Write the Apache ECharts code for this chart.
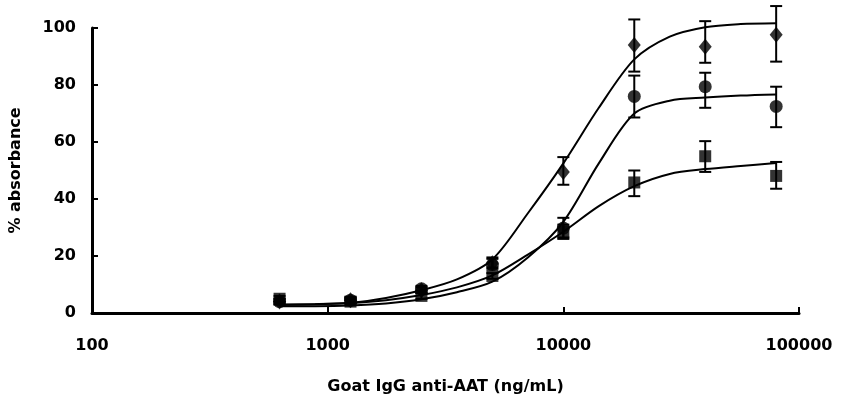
<!DOCTYPE html>
<html>
<head>
<meta charset="utf-8">
<script src="https://cdn.jsdelivr.net/npm/echarts@6/dist/echarts.min.js"></script>
<style>
  html, body { margin: 0; padding: 0; background: #fff; }
  #myChart { width: 841px; height: 400px; }
</style>
</head>
<body>
<div id="myChart"></div>
<script>
// measured concentrations (ng/mL)
var doses = [625, 1250, 2500, 5000, 10000, 20000, 40000, 80000];

// mean % absorbance per series
var diamondVals = [4, 4.5, 8, 17.5, 49.5, 94, 93.4, 97.6];
var circleVals  = [4, 4.5, 8.5, 17, 29.8, 76, 79.4, 72.5];
var squareVals  = [5, 4, 6, 13, 28.5, 45.8, 55, 48.1];

// error bar ends
var diamondLo = [3, 3.5, 7, 16, 45, 84.7, 87.8, 88.2];
var diamondHi = [5, 5.5, 9, 19.5, 54.7, 103, 102.4, 107.7];
var circleLo  = [3, 3.5, 7.5, 15.5, 26.5, 68.6, 72, 65.2];
var circleHi  = [5, 5.5, 9.5, 19, 33.4, 83.3, 84.3, 79.4];
var squareLo  = [4, 3, 5, 12, 26, 41, 49.5, 43.6];
var squareHi  = [6, 5, 7, 14, 31, 50, 60.3, 53];

// fitted curves
var curveX = [625, 884, 1250, 1768, 2500, 3536, 5000, 7071, 10000, 14142, 20000, 28284, 40000, 56569, 80000];
var diamondCurve = [3, 3.1, 3.6, 5.3, 8, 11.8, 18.8, 35, 52.5, 72, 89, 97, 100.3, 101.4, 101.7];
var circleCurve  = [2.4, 2.4, 2.6, 3.3, 4.8, 7.3, 11, 19.5, 32, 52.5, 70, 74.5, 75.6, 76.3, 76.7];
var squareCurve  = [2.8, 3.1, 3.5, 4.5, 6.3, 9, 13.2, 20.5, 28.5, 37.5, 44.5, 48.8, 50.5, 51.6, 52.6];

var FONT = 'DejaVu Sans';

function pairs(xs, ys) {
    var out = [];
    for (var i = 0; i < xs.length; i++) out.push([xs[i], ys[i]]);
    return out;
}

function errData(lo, hi) {
    var out = [];
    for (var i = 0; i < doses.length; i++) out.push([doses[i], lo[i], hi[i]]);
    return out;
}

function renderErr(params, api) {
    var top = api.coord([api.value(0), api.value(2)]);
    var bot = api.coord([api.value(0), api.value(1)]);
    var w = 6;
    var st = { stroke: '#000', lineWidth: 2 };
    return {
        type: 'group',
        children: [
            { type: 'line', shape: { x1: top[0], y1: top[1], x2: bot[0], y2: bot[1] }, style: st },
            { type: 'line', shape: { x1: top[0] - w, y1: top[1], x2: top[0] + w, y2: top[1] }, style: st },
            { type: 'line', shape: { x1: bot[0] - w, y1: bot[1], x2: bot[0] + w, y2: bot[1] }, style: st }
        ]
    };
}

function curve(data) {
    return {
        type: 'line', data: data, smooth: 0.3, showSymbol: false, symbol: 'none',
        clip: false, lineStyle: { color: '#000', width: 2 }, z: 2, silent: true
    };
}

function errSeries(lo, hi) {
    return { type: 'custom', data: errData(lo, hi), renderItem: renderErr, clip: false, z: 3, silent: true };
}

function markers(vals, sym, size) {
    return {
        type: 'scatter', data: pairs(doses, vals), symbol: sym, symbolSize: size, clip: false,
        itemStyle: { color: '#000' }, z: 4, silent: true
    };
}

var myChart = echarts.init(document.getElementById('myChart'));

var option = {
    animation: false,
    backgroundColor: '#fff',
    grid: { left: 92, right: 42, top: 28, bottom: 85 },
    xAxis: {
        type: 'log', logBase: 10, min: 100, max: 100000,
        name: 'Goat IgG anti-AAT (ng/mL)', nameLocation: 'middle', nameGap: 66,
        nameTextStyle: { fontFamily: FONT, fontWeight: 'bold', fontSize: 16, color: '#000' },
        axisLine: { lineStyle: { color: '#000', width: 3 } },
        axisTick: { inside: true, length: 6, lineStyle: { color: '#000', width: 2 } },
        axisLabel: {
            margin: 25, fontFamily: FONT, fontWeight: 'bold', fontSize: 16, color: '#000',
            formatter: function (v) { return String(Math.round(v)); }
        },
        splitLine: { show: false },
        minorTick: { show: false }
    },
    yAxis: {
        type: 'value', min: 0, max: 100, interval: 20,
        name: '% absorbance', nameLocation: 'middle', nameGap: 68, nameRotate: 90,
        nameTextStyle: { fontFamily: FONT, fontWeight: 'bold', fontSize: 16, color: '#000' },
        axisLine: { show: true, lineStyle: { color: '#000', width: 3 } },
        axisTick: { show: true, inside: true, length: 6, lineStyle: { color: '#000', width: 2 } },
        axisLabel: { margin: 16, fontFamily: FONT, fontWeight: 'bold', fontSize: 16, color: '#000' },
        splitLine: { show: false }
    },
    series: [
        curve(pairs(curveX, diamondCurve)),
        curve(pairs(curveX, circleCurve)),
        curve(pairs(curveX, squareCurve)),
        errSeries(diamondLo, diamondHi),
        errSeries(circleLo, circleHi),
        errSeries(squareLo, squareHi),
        markers(squareVals, 'rect', 12),
        markers(circleVals, 'circle', 13),
        markers(diamondVals, 'diamond', [13, 16])
    ]
};

myChart.setOption(option);
</script>
</body>
</html>
